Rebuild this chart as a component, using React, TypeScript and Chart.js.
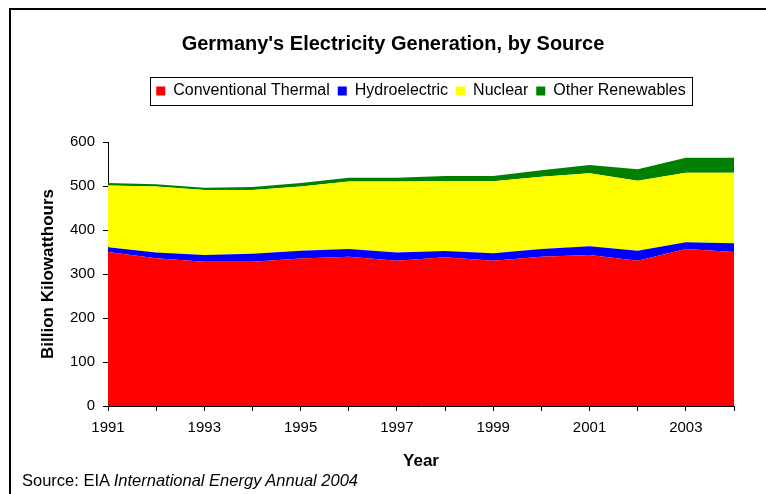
import React, { useEffect, useRef } from 'react';
import { Chart, registerables } from 'chart.js';

Chart.register(...registerables);

// ---- Data (billion kilowatthours) ----
const years = ['1991', '1992', '1993', '1994', '1995', '1996', '1997', '1998', '1999', '2000', '2001', '2002', '2003', '2004'];
const conventionalThermal = [350, 336, 328, 328, 335, 339, 330, 338, 330, 339, 343, 330, 357, 350];
const hydroelectric = [11, 13, 15, 18, 18, 18, 19, 14, 17, 18, 20, 23, 15, 20];
const nuclear = [140, 150, 148, 145, 146, 153, 161, 159, 164, 164, 166, 159, 158, 160];
const otherRenewables = [6, 5, 5, 7, 8, 9, 9, 12, 12, 15, 19, 26, 34, 34];

const seriesNames = ['Conventional Thermal', 'Hydroelectric', 'Nuclear', 'Other Renewables'];
const seriesColors = ['#FF0000', '#0000FF', '#FFFF00', '#008000'];

const yMin = 0;
const yMax = 600;
const yStep = 100;

const titleText = "Germany's Electricity Generation, by Source";
const yTitle = 'Billion Kilowatthours';
const xTitle = 'Year';

const FONT = "'Liberation Sans', Arial, Helvetica, sans-serif";

const placeBlocks = {
  id: 'placeBlocks',
  afterLayout(chart: any) {
    const t = chart.titleBlock;
    if (t) {
      const h = t.height;
      t.left = 93;
      t.right = 693;
      t.top = 32;
      t.bottom = 32 + h;
    }
    const l = chart.legend;
    if (l) {
      const h = l.height;
      l.top = 75;
      l.bottom = 75 + h;
    }
  },
  afterDraw(chart: any) {
    const l = chart.legend;
    if (!l || !l.legendHitBoxes || !l.legendHitBoxes.length) return;
    const hb = l.legendHitBoxes;
    let x0 = Infinity, x1 = -Infinity, y0 = Infinity, y1 = -Infinity;
    for (const b of hb) {
      x0 = Math.min(x0, b.left);
      x1 = Math.max(x1, b.left + b.width);
      y0 = Math.min(y0, b.top);
      y1 = Math.max(y1, b.top + b.height);
    }
    const ctx = chart.ctx;
    ctx.save();
    ctx.strokeStyle = '#000';
    ctx.lineWidth = 1;
    ctx.strokeRect(Math.round(x0 - 6) + 0.5, Math.round(y0 - 6) + 0.5, Math.round(x1 - x0 + 12), Math.round(y1 - y0 + 12));
    ctx.restore();
  },
};

export default function App() {
  const canvasRef = useRef<HTMLCanvasElement | null>(null);

  useEffect(() => {
    const canvas = canvasRef.current;
    if (!canvas) return;
    const seriesValues = [conventionalThermal, hydroelectric, nuclear, otherRenewables];
    const chart = new Chart(canvas, {
      type: 'line',
      data: {
        labels: years,
        datasets: seriesValues.map((vals, i) => ({
          label: seriesNames[i],
          data: vals,
          backgroundColor: seriesColors[i],
          borderColor: seriesColors[i],
          borderWidth: 0,
          pointRadius: 0,
          pointHoverRadius: 0,
          tension: 0,
          fill: i === 0 ? 'origin' : '-1',
        })),
      },
      plugins: [placeBlocks],
      options: {
        responsive: false,
        animation: false,
        devicePixelRatio: 1,
        color: '#000',
        layout: { padding: { top: 84, left: 20, right: 32, bottom: 22 } },
        plugins: {
          title: {
            display: true,
            text: titleText,
            color: '#000',
            font: { family: FONT, size: 20, weight: 'bold' },
            padding: { top: 0, bottom: 0 },
          },
          legend: {
            display: true,
            position: 'top',
            fullSize: false,
            labels: {
              color: '#000',
              font: { family: FONT, size: 16 },
              boxWidth: 9,
              boxHeight: 9,
              padding: 8,
            },
          },
          tooltip: { enabled: false },
        },
        scales: {
          x: {
            type: 'category',
            offset: false,
            grid: { display: true, drawOnChartArea: false, drawTicks: true, tickLength: 5, color: '#000' },
            border: { display: true, color: '#000', width: 1 },
            ticks: {
              autoSkip: false,
              maxRotation: 0,
              minRotation: 0,
              padding: 8,
              color: '#000',
              font: { family: FONT, size: 15 },
              callback: (_v: any, i: number) => (i % 2 === 0 ? years[i] : ''),
            },
            title: {
              display: true,
              text: xTitle,
              color: '#000',
              font: { family: FONT, size: 17, weight: 'bold' },
              padding: { top: 0, bottom: 0 },
            },
            afterFit: (s: any) => { s.height = 66; },
          },
          y: {
            stacked: true,
            min: yMin,
            max: yMax,
            grid: { display: true, drawOnChartArea: false, drawTicks: true, tickLength: 5, color: '#000' },
            border: { display: true, color: '#000', width: 1 },
            ticks: {
              stepSize: yStep,
              padding: 8,
              color: '#000',
              font: { family: FONT, size: 15 },
            },
            title: {
              display: true,
              text: yTitle,
              color: '#000',
              font: { family: FONT, size: 17, weight: 'bold' },
              padding: { top: 18, bottom: 0 },
            },
            afterFit: (s: any) => { s.width = 88; },
          },
        },
      },
    } as any);
    return () => chart.destroy();
  }, []);

  return (
    <div style={{ position: 'fixed', left: 0, top: 0, width: 766, height: 494, overflow: 'hidden', background: '#fff' }}>
      <div style={{ position: 'absolute', left: 9, top: 8, width: 757, height: 2, background: '#000' }} />
      <div style={{ position: 'absolute', left: 9, top: 8, width: 2, height: 486, background: '#000' }} />
      <canvas ref={canvasRef} width={766} height={494} style={{ position: 'absolute', left: 0, top: 0, width: 766, height: 494, display: 'block' }} />
      <div style={{ position: 'absolute', left: 22, top: 471, fontFamily: FONT, fontSize: 16.5, lineHeight: '18px', color: '#000', whiteSpace: 'nowrap' }}>
        Source: EIA <i>International Energy Annual 2004</i>
      </div>
    </div>
  );
}
